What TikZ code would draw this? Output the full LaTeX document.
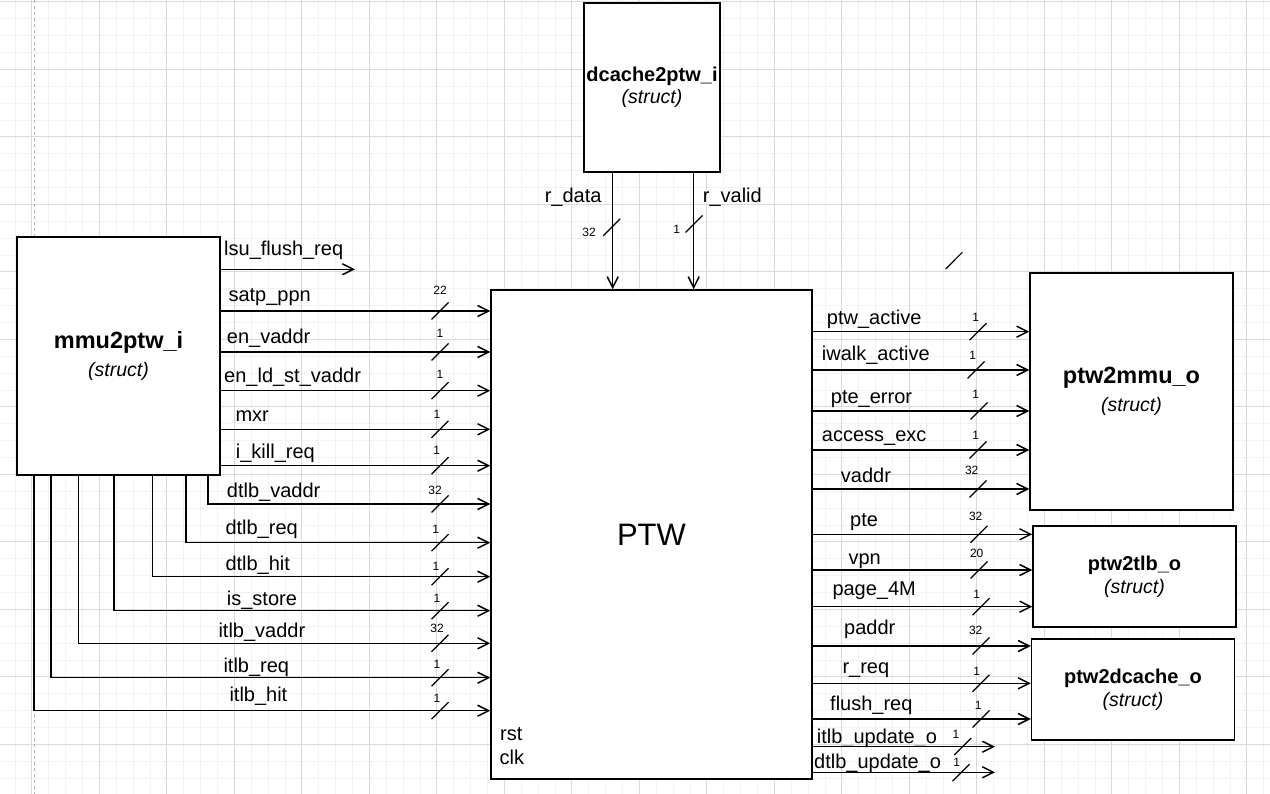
\documentclass[tikz,border=0pt]{standalone}
\usepackage{fontspec}
\setmainfont{Liberation Sans}
\usetikzlibrary{arrows.meta}
\definecolor{gridminor}{HTML}{F3F3F3}
\definecolor{gridmajor}{HTML}{DADADA}
\definecolor{pageline}{HTML}{B4B4B4}
\newcommand{\structlbl}{{\normalfont\fontsize{19.5}{24}\selectfont\itshape (struct)}}

\begin{document}
\begin{tikzpicture}[
        x=1pt, y=-1pt,
        every node/.style={font=\fontsize{20}{24}\selectfont},
        block/.style={rectangle, draw, fill=white, line width=1.5pt,
            inner sep=0pt, align=center},
        bigblock/.style={block, font=\fontsize{23.5}{28.4}\selectfont\bfseries},
        smallblock/.style={block, font=\fontsize{20}{22.8}\selectfont\bfseries},
        sig/.style={-{Straight Barb[length=11pt,width=11pt]}, line width=1.5pt},
        busw/.style={line width=1.2pt},
        signame/.style={inner sep=0pt, anchor=base west},
        bitnum/.style={font=\fontsize{12}{14}\selectfont, inner sep=0pt},
        minorgrid/.style={draw=gridminor, line width=0.8pt},
        majorgrid/.style={draw=gridmajor, line width=0.8pt}
      ]
      \useasboundingbox (0,0) rectangle (1270,794);

      \foreach \i in {-1,...,73}{
          \pgfmathsetmacro\gx{31.8+16.875*\i}
          \draw[minorgrid] (\gx,0) -- (\gx,794);
        }
      \foreach \i in {0,...,46}{
          \pgfmathsetmacro\gy{1.8+16.875*\i}
          \draw[minorgrid] (0,\gy) -- (1270,\gy);
        }
      \foreach \i in {0,...,18}{
          \pgfmathsetmacro\gx{31.8+67.5*\i}
          \draw[majorgrid] (\gx,0) -- (\gx,794);
        }
      \foreach \i in {0,...,11}{
          \pgfmathsetmacro\gy{1.8+67.5*\i}
          \draw[majorgrid] (0,\gy) -- (1270,\gy);
        }
      \draw[pageline, line width=0.8pt, dash pattern=on 3pt off 3pt] (34,0) -- (34,794);

      \node[bigblock, minimum width=203, minimum height=238]
      (mmu) at (118.5,356) {mmu2ptw\_i\\\structlbl};
      \node[smallblock, minimum width=136, minimum height=169]
      (dcache) at (652,87.3) {dcache2ptw\_i\\\structlbl};
      \node[block, minimum width=321, minimum height=489,
        font=\fontsize{31}{36}\selectfont]
      (ptw) at (651.5,534.5) {PTW};
      \node[bigblock, minimum width=203, minimum height=237]
      (o1) at (1131.5,391.5) {ptw2mmu\_o\\\structlbl};
      \node[smallblock, minimum width=203, minimum height=101]
      (o2) at (1134.5,576.5) {ptw2tlb\_o\\\structlbl};
      \node[smallblock, minimum width=203, minimum height=101]
      (o3) at (1133,689.5) {ptw2dcache\_o\\\structlbl};

      \node[signame] (rst) at (500,740) {rst};
      \node[signame] (clk) at (499.5,764.3) {clk};

      % inputs from mmu2ptw_i
      \coordinate (lsuend) at (355,269.3);
      \draw[sig] (mmu.east |- lsuend) -- (lsuend);
      \node[signame] (lbl-lsu) at (224,255.7) {lsu\_flush\_req};

      \foreach \id/\txt/\yy/\lx/\ly/\bits/\nx/\ny in {
          satp/satp\_ppn/311/228.3/301.7/22/440/290,
          envaddr/en\_vaddr/352/226.7/343.3/1/440/333.3,
          enldst/en\_ld\_st\_vaddr/390.7/224/382.7/1/440/374.3,
          mxr/mxr/429.3/235.3/421.7/1/437/414,
          ikill/i\_kill\_req/465.7/235.7/458.3/1/436.7/450.7}{
          \draw[sig] (mmu.east |- 0,\yy) -- (ptw.west |- 0,\yy);
          \draw[busw] (440,\yy) ++(-8.5,8.5) -- ++(17,-17);
          \node[signame] (lbl-\id) at (\lx,\ly) {\txt};
          \node[bitnum] (bits-\id) at (\nx,\ny) {\bits};
        }

      \foreach \id/\txt/\xx/\yy/\lx/\ly/\bits/\nx/\ny in {
          dvaddr/dtlb\_vaddr/208/504/226.7/497.3/32/435/490.7,
          dreq/dtlb\_req/186/542.7/225.3/534.3/1/435.7/529.3,
          dhit/dtlb\_hit/152.7/576.7/225.3/570.7/1/436/566,
          store/is\_store/114/610.7/226.7/605.7/1/437/598.3,
          ivaddr/itlb\_vaddr/78.3/643.3/218.3/637.7/32/437/628.7,
          ireq/itlb\_req/51/677.7/223.3/672.3/1/437/664,
          ihit/itlb\_hit/34/710.7/229.3/701.7/1/437/698.7}{
          \draw[sig] (mmu.south -| \xx,0) |- (ptw.west |- 0,\yy);
          \draw[busw] (440,\yy) ++(-8.5,8.5) -- ++(17,-17);
          \node[signame] (lbl-\id) at (\lx,\ly) {\txt};
          \node[bitnum] (bits-\id) at (\nx,\ny) {\bits};
        }

      % inputs from dcache2ptw_i
      \draw[sig] (dcache.south -| 612.7,0) -- (ptw.north -| 612.7,0);
      \draw[sig] (dcache.south -| 693.7,0) -- (ptw.north -| 693.7,0);
      \draw[busw] (611.7,227.3) ++(-8.5,8.5) -- ++(17,-17);
      \draw[busw] (694,224) ++(-8.5,8.5) -- ++(17,-17);
      \node[signame, anchor=base east] (lbl-rdata) at (601.7,202.3) {r\_data};
      \node[signame] (lbl-rvalid) at (702.7,202.3) {r\_valid};
      \node[bitnum] (bits-rdata) at (589,232.3) {32};
      \node[bitnum] (bits-rvalid) at (676.7,229.3) {1};

      \draw[busw] (945.7,269) -- (962.3,252.3);

      % outputs
      \foreach \id/\txt/\tgt/\yy/\lx/\ly/\bits/\nx/\ny/\sx in {
          active/ptw\_active/o1/331.7/826.7/325/1/975.7/317.3/978,
          iwalk/iwalk\_active/o1/370/821.7/360.7/1/972.7/355/976,
          pteerr/pte\_error/o1/411/830.7/403.3/1/975.7/394.3/979,
          acc/access\_exc/o1/450/821.7/441.7/1/975.7/435/978,
          vaddr/vaddr/o1/489/840.7/482.3/32/971.7/470.7/978,
          pte/pte/o2/534.3/850/526/32/975.7/516.7/979,
          vpn/vpn/o2/570/848.3/564/20/976.7/553/979,
          page/page\_4M/o2/606.7/832.3/595.7/1/976.7/594.3/981,
          paddr/paddr/o3/646/844/634/32/975.7/630/981,
          rreq/r\_req/o3/683.3/842.3/673.3/1/976.7/671.3/981,
          flush/flush\_req/o3/719/830/710/1/978.3/705/981}{
          \draw[sig] (ptw.east |- 0,\yy) -- (\tgt.west |- 0,\yy);
          \draw[busw] (\sx,\yy) ++(-8.5,8.5) -- ++(17,-17);
          \node[signame] (lbl-\id) at (\lx,\ly) {\txt};
          \node[bitnum] (bits-\id) at (\nx,\ny) {\bits};
        }

      \coordinate (iupd) at (995,746.7);
      \coordinate (dupd) at (995,772.3);
      \draw[sig] (ptw.east |- iupd) -- (iupd);
      \draw[sig] (ptw.east |- dupd) -- (dupd);
      \draw[busw] (962.7,746.5) ++(-8.5,8.5) -- ++(17,-17);
      \draw[busw] (961,772.7) ++(-8.5,8.5) -- ++(17,-17);
      \node[signame] (lbl-iupd) at (816.7,743.3) {itlb\_update\_o};
      \node[signame] (lbl-dupd) at (814,768.3) {dtlb\_update\_o};
      \node[bitnum] (bits-iupd) at (956,734.3) {1};
      \node[bitnum] (bits-dupd) at (956.7,762.7) {1};
    \end{tikzpicture}
\end{document}
